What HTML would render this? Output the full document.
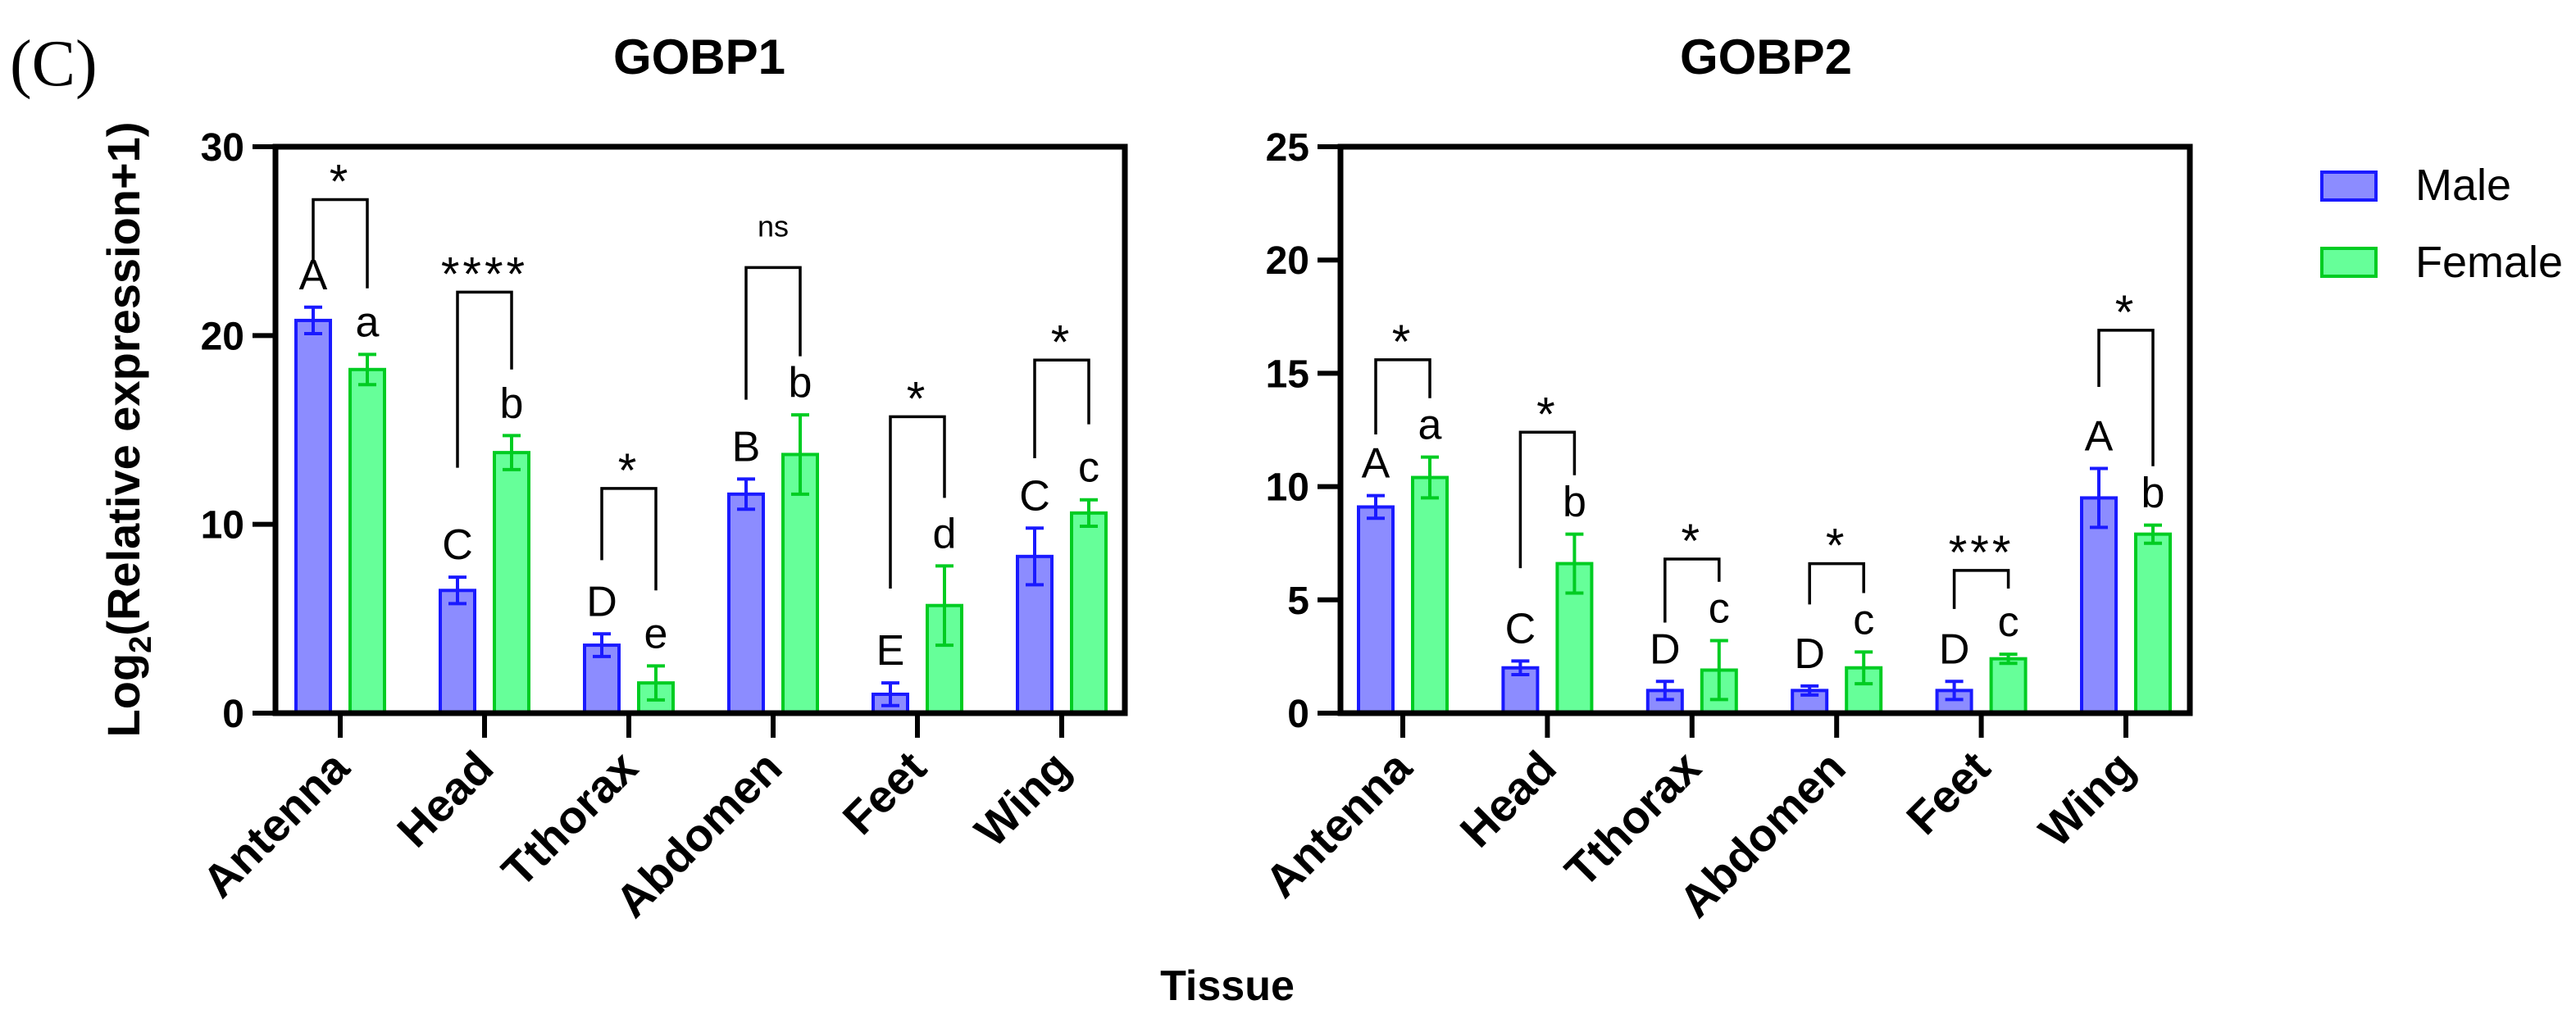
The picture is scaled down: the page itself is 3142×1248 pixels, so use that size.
<!DOCTYPE html>
<html><head><meta charset="utf-8"><style>
html,body{margin:0;padding:0;background:#fff}
svg{display:block}
text{font-family:"Liberation Sans",Arial,sans-serif}
</style></head><body>
<svg id="chart" width="3142" height="1248" viewBox="0 0 3142 1248" xmlns="http://www.w3.org/2000/svg">
<text x="12" y="104" font-family="Liberation Serif" font-size="80" style="font-family:'Liberation Serif',serif">(C)</text>
<text x="853" y="90" text-anchor="middle" font-size="60" font-weight="bold">GOBP1</text>
<text x="2154" y="90" text-anchor="middle" font-size="60" font-weight="bold">GOBP2</text>
<text transform="translate(170,524) rotate(-90)" text-anchor="middle" font-size="56" font-weight="bold">Log<tspan font-size="38" dy="14">2</tspan><tspan dy="-14">(Relative expression+1)</tspan></text>
<text x="1497" y="1220" text-anchor="middle" font-size="52" font-weight="bold">Tissue</text>
<g>
<rect x="2832" y="210" width="66" height="34" fill="#8c8cff" stroke="#1a1aff" stroke-width="4"/>
<text x="2946" y="244" font-size="54">Male</text>
<rect x="2832" y="303" width="66" height="34" fill="#66ff99" stroke="#00cc22" stroke-width="4"/>
<text x="2946" y="338" font-size="54">Female</text>
</g>
<g id="p1"></g>
<g id="p2"></g>
</svg>
<script>
const categories = ["Antenna","Head","Tthorax","Abdomen","Feet","Wing"];
const g1Male = [20.8, 6.5, 3.6, 11.6, 1.0, 8.3];
const g1MaleErr = [0.7, 0.7, 0.6, 0.8, 0.6, 1.5];
const g1Female = [18.2, 13.8, 1.6, 13.7, 5.7, 10.6];
const g1FemaleErr = [0.8, 0.9, 0.9, 2.1, 2.1, 0.7];
const g1MaleLetters = ["A","C","D","B","E","C"];
const g1FemaleLetters = ["a","b","e","b","d","c"];
const g1Sig = ["*","****","*","ns","*","*"];
const g1BracketTop = [27.2, 22.3, 11.9, 23.6, 15.7, 18.7];
const g1BracketLeft = [23.9, 13.0, 8.1, 16.6, 6.6, 13.5];
const g1BracketRight = [22.5, 18.2, 6.5, 18.9, 11.4, 15.3];
const g1Ticks = [0, 10, 20, 30];
const g2Male = [9.1, 2.0, 1.0, 1.0, 1.0, 9.5];
const g2MaleErr = [0.5, 0.3, 0.4, 0.2, 0.4, 1.3];
const g2Female = [10.4, 6.6, 1.9, 2.0, 2.4, 7.9];
const g2FemaleErr = [0.9, 1.3, 1.3, 0.7, 0.2, 0.4];
const g2MaleLetters = ["A","C","D","D","D","A"];
const g2FemaleLetters = ["a","b","c","c","c","b"];
const g2Sig = ["*","*","*","*","***","*"];
const g2BracketTop = [15.6, 12.4, 6.8, 6.6, 6.3, 16.9];
const g2BracketLeft = [12.3, 6.4, 4.0, 4.8, 4.6, 14.4];
const g2BracketRight = [13.9, 10.5, 5.8, 5.3, 5.5, 10.9];
const g2Ticks = [0, 5, 10, 15, 20, 25];

const NS = "http://www.w3.org/2000/svg";
function mk(parent, tag, attrs, text){
  const e = document.createElementNS(NS, tag);
  for (const k in attrs) e.setAttribute(k, attrs[k]);
  if (text !== undefined) e.textContent = text;
  parent.appendChild(e);
  return e;
}
function draw(gid, cfg){
  const g = document.getElementById(gid);
  const y0 = 870, y1 = 179;
  const ys = v => y0 - (v / cfg.max) * (y0 - y1);
  const xs = i => cfg.firstCenter + i * cfg.step;
  const off = 33, bw = 42;
  for (let i = 0; i < categories.length; i++){
    const series = [
      {v: cfg.male[i], e: cfg.maleErr[i], fill:"#8c8cff", stroke:"#1a1aff", x: xs(i) - off, l: cfg.mL[i], n:"male"},
      {v: cfg.female[i], e: cfg.femaleErr[i], fill:"#66ff99", stroke:"#00cc22", x: xs(i) + off, l: cfg.fL[i], n:"female"}
    ];
    series.forEach(s => {
      const r = mk(g, "rect", {x: s.x - bw/2, y: ys(s.v), width: bw, height: y0 - ys(s.v), fill: s.fill, stroke: s.stroke, "stroke-width": 4});
      
      
      const top = ys(s.v + s.e), bot = ys(Math.max(0, s.v - s.e));
      const eb = mk(g, "path", {d: `M${s.x},${top}V${bot}M${s.x-11},${top}H${s.x+11}M${s.x-11},${bot}H${s.x+11}`, stroke: s.stroke, "stroke-width": 4, fill: "none"});
      
      
      const t = mk(g, "text", {x: s.x, y: top - 22, "text-anchor": "middle", "font-size": 52}, s.l);
      
      
    });
    const xl = xs(i) - off, xr = xs(i) + off, bt = ys(cfg.bTop[i]);
    const br = mk(g, "path", {d: `M${xl},${ys(cfg.bL[i])}V${bt}H${xr}V${ys(cfg.bR[i])}`, stroke: "#000", "stroke-width": 3.5, fill: "none"});
    
    
    const isNs = cfg.sig[i] === "ns";
    const st = mk(g, "text", {x: (xl + xr) / 2, y: isNs ? bt - 38 : bt - 2, "text-anchor": "middle", "font-size": isNs ? 36 : 58, "letter-spacing": isNs ? 0 : 4}, cfg.sig[i]);
    
    
    const tk = mk(g, "line", {x1: xs(i), x2: xs(i), y1: y0, y2: 900, stroke: "#000", "stroke-width": 6});
    
    
    const lx = xs(i) + 14, ly = 940;
    const lb = mk(g, "text", {x: lx, y: ly, "text-anchor": "end", "font-size": 56, "font-weight": "bold", transform: `rotate(-45 ${lx} ${ly})`}, categories[i]);
    
    
  }
  cfg.ticks.forEach(v => {
    const tl = mk(g, "line", {x1: cfg.axL - 28, x2: cfg.axL, y1: ys(v), y2: ys(v), stroke: "#000", "stroke-width": 6});
    
    
    const tt = mk(g, "text", {x: cfg.axL - 38, y: ys(v) + 17, "text-anchor": "end", "font-size": 48, "font-weight": "bold"}, String(v));
    
    
  });
  const fr = mk(g, "rect", {x: cfg.axL, y: y1, width: cfg.axR - cfg.axL, height: y0 - y1, fill: "none", stroke: "#000", "stroke-width": 7});
  
  
}
draw("p1", {max: 30, firstCenter: 415, step: 176, axL: 336, axR: 1372, male: g1Male, maleErr: g1MaleErr, female: g1Female, femaleErr: g1FemaleErr, mL: g1MaleLetters, fL: g1FemaleLetters, sig: g1Sig, bTop: g1BracketTop, bL: g1BracketLeft, bR: g1BracketRight, ticks: g1Ticks});
draw("p2", {max: 25, firstCenter: 1711, step: 176.4, axL: 1635, axR: 2671, male: g2Male, maleErr: g2MaleErr, female: g2Female, femaleErr: g2FemaleErr, mL: g2MaleLetters, fL: g2FemaleLetters, sig: g2Sig, bTop: g2BracketTop, bL: g2BracketLeft, bR: g2BracketRight, ticks: g2Ticks});
</script>
</body></html>
